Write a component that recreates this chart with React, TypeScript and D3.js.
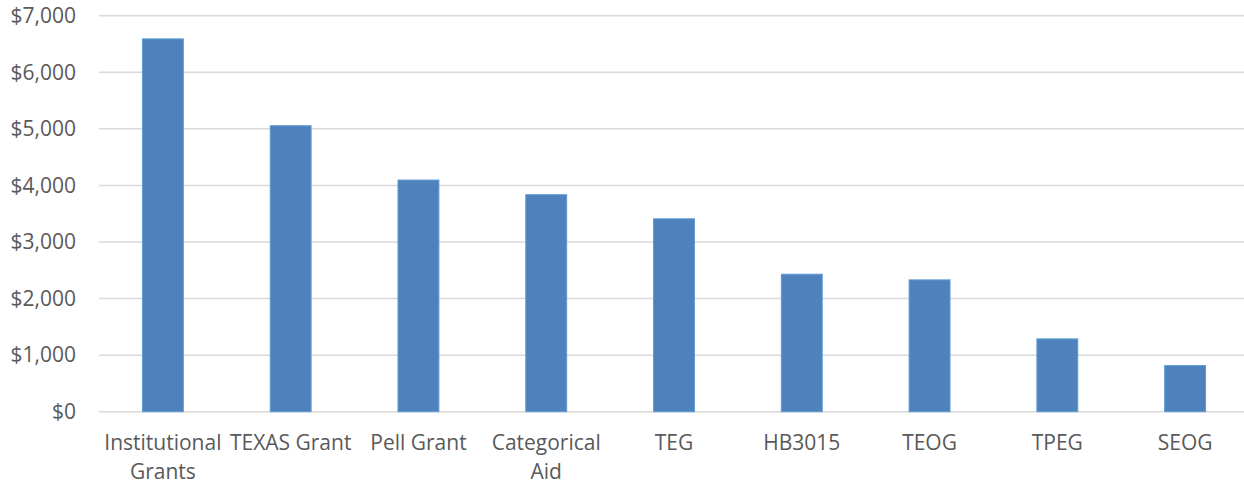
import { useEffect, useRef } from "react";
import * as d3 from "d3";

// categories (multi-line labels split by "\n")
const categories = [
  "Institutional\nGrants",
  "TEXAS Grant",
  "Pell Grant",
  "Categorical\nAid",
  "TEG",
  "HB3015",
  "TEOG",
  "TPEG",
  "SEOG",
];
const amounts = [6590, 5055, 4095, 3836, 3410, 2430, 2330, 1287, 815];
const yTicks = [0, 1000, 2000, 3000, 4000, 5000, 6000, 7000];

const App = () => {
  const ref = useRef<SVGSVGElement>(null);

  useEffect(() => {
    const svg = d3.select(ref.current);
    svg.selectAll("*").remove();

    const width = 1244, height = 485;
    const left = 99, right = 1249, top = 15.7, bottom = 411.7;

    const x = d3.scaleBand().domain(categories).range([left, right]).padding(0);
    const y = d3.scaleLinear().domain([0, 7000]).range([bottom, top]);

    svg.attr("width", width).attr("height", height);
    const font = "'Open Sans', sans-serif";

    // gridlines
    svg.append("g")
      .selectAll("line")
      .data(yTicks)
      .join("line")
      .attr("x1", left)
      .attr("x2", right)
      .attr("y1", (d) => y(d))
      .attr("y2", (d) => y(d))
      .attr("stroke", "#d9d9d9")
      .attr("stroke-width", 1.5);

    // y tick labels
    svg.append("g")
      .selectAll("text")
      .data(yTicks)
      .join("text")
      .attr("x", 76)
      .attr("y", (d) => y(d))
      .attr("dy", "0.35em")
      .attr("text-anchor", "end")
      .attr("font-family", font)
      .attr("font-size", 21)
      .attr("fill", "#595959")
      .text((d) => "$" + d3.format(",")(d));

    // bars
    const bw = x.bandwidth() * 0.32;
    svg.append("g")
      .selectAll("rect")
      .data(amounts)
      .join("rect")
      .attr("x", (_, i) => x(categories[i])! + x.bandwidth() / 2 - bw / 2)
      .attr("y", (d) => y(d))
      .attr("width", bw)
      .attr("height", (d) => bottom - y(d))
      .attr("fill", "#4f81bd")
      .attr("stroke", "#5b9bd5")
      .attr("stroke-width", 1);

    // category labels
    const lab = svg.append("g")
      .selectAll("text")
      .data(categories)
      .join("text")
      .attr("x", (d) => x(d)! + x.bandwidth() / 2)
      .attr("y", 450)
      .attr("text-anchor", "middle")
      .attr("font-family", font)
      .attr("font-size", 21)
      .attr("fill", "#595959");
    lab.each(function (d) {
      const t = d3.select(this);
      d.split("\n").forEach((line, i) => {
        t.append("tspan")
          .attr("x", x(d)! + x.bandwidth() / 2)
          .attr("dy", i === 0 ? 0 : 29)
          .text(line);
      });
    });
  }, []);

  return (
    <svg ref={ref} style={{ position: "absolute", left: 0, top: 0 }} />
  );
};

export default App;
